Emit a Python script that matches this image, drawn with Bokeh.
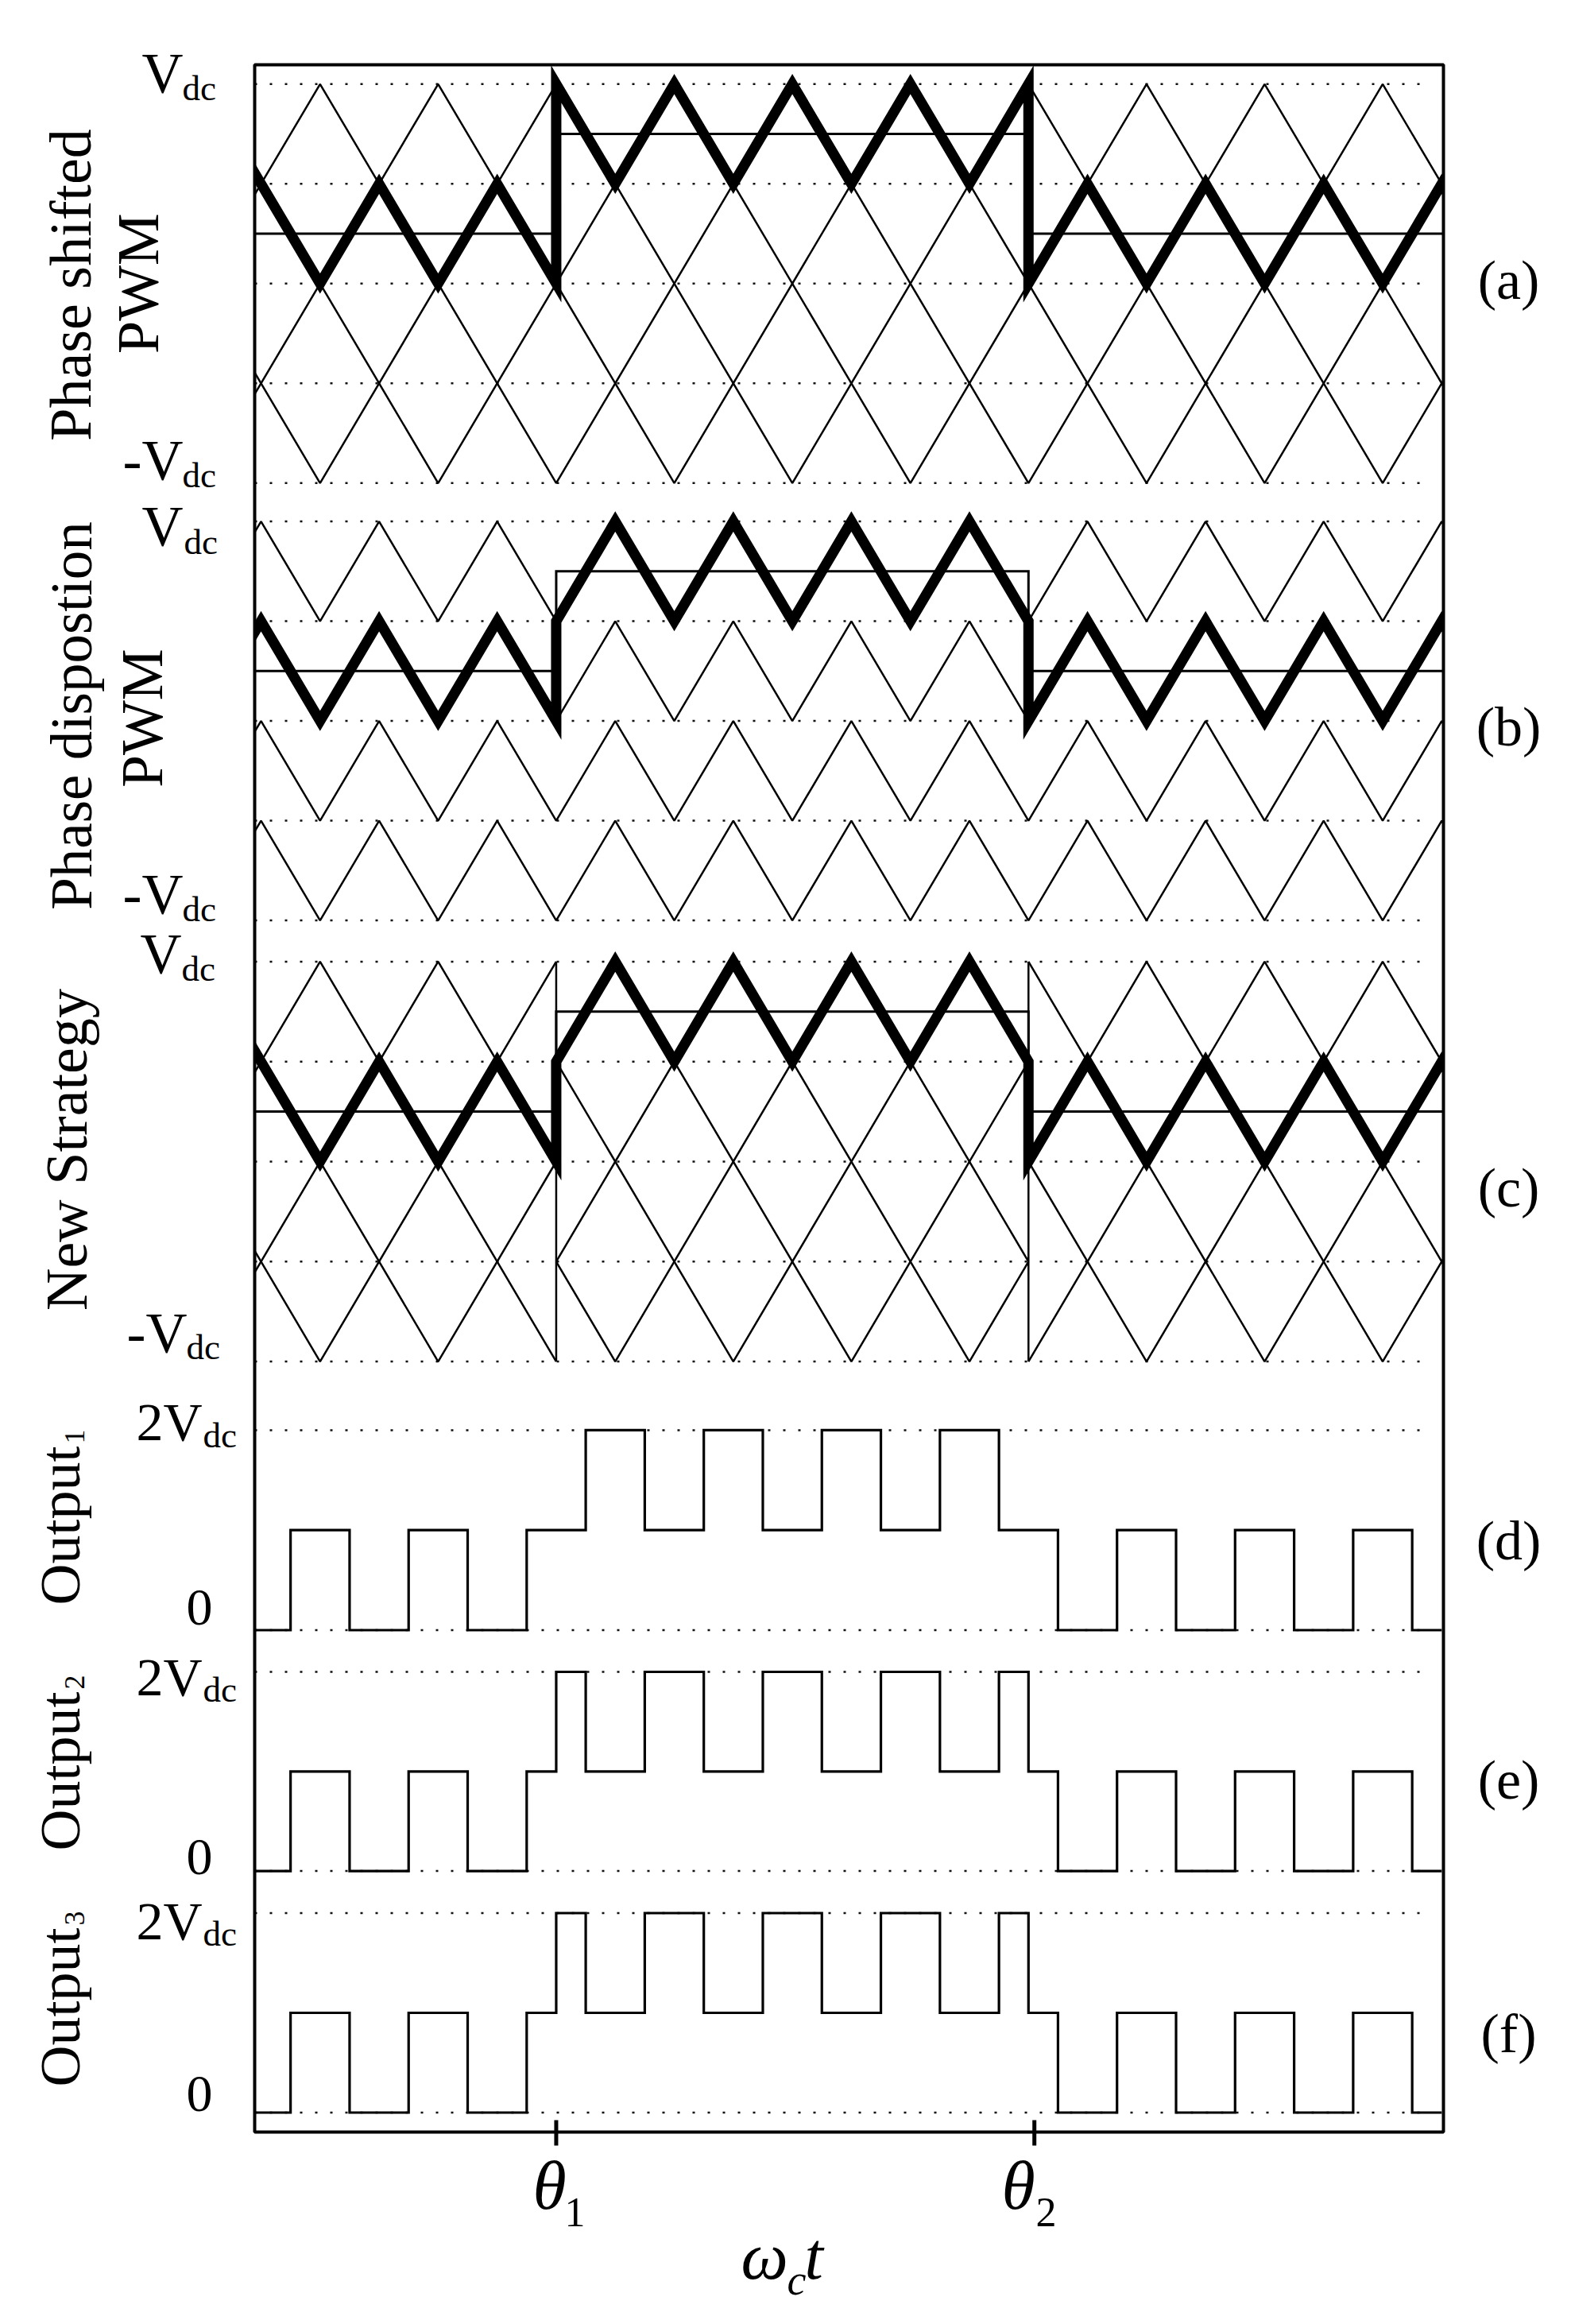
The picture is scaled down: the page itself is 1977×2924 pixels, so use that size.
import math
from bokeh.plotting import figure
from bokeh.models import Range1d, Label, BoxAnnotation
from bokeh.embed import file_html
from bokeh.resources import INLINE

# ---------------- data ----------------
# x: carrier time axis (quarter periods of the PS carriers, omega_c*t), y: multiples of Vdc
theta_ticks = [5.0, 13.1]
theta_subs = ["1", "2"]

carrier_levels = [1.0, 0.5, 0.0, -0.5, -1.0]
output_levels = [2.0, 0.0]

# modulating (reference) signal, identical in (a)-(c)
ref_x = [-1, 5, 5, 13, 13, 21]
ref_y = [0.25, 0.25, 0.75, 0.75, 0.25, 0.25]

# (a) phase shifted carriers (vertices)
ps_x = [[-3, 1, 5, 9, 13, 17, 21],
        [-1, 3, 7, 11, 15, 19, 23],
        [-3, 1, 5, 9, 13, 17, 21],
        [-1, 3, 7, 11, 15, 19, 23]]
ps_y = [[-1, 1, -1, 1, -1, 1, -1],
        [-1, 1, -1, 1, -1, 1, -1],
        [1, -1, 1, -1, 1, -1, 1],
        [1, -1, 1, -1, 1, -1, 1]]

# (b) phase disposition carriers (vertices)
pd_x = [-1, 0, 1, 2, 3, 4, 5, 6, 7, 8, 9, 10, 11, 12, 13, 14, 15, 16, 17, 18, 19, 20, 21]
pd_y = [
    [0.5, 1, 0.5, 1, 0.5, 1, 0.5, 1, 0.5, 1, 0.5, 1, 0.5, 1, 0.5, 1, 0.5, 1, 0.5, 1, 0.5, 1, 0.5],
    [0, 0.5, 0, 0.5, 0, 0.5, 0, 0.5, 0, 0.5, 0, 0.5, 0, 0.5, 0, 0.5, 0, 0.5, 0, 0.5, 0, 0.5, 0],
    [-0.5, 0, -0.5, 0, -0.5, 0, -0.5, 0, -0.5, 0, -0.5, 0, -0.5, 0, -0.5, 0, -0.5, 0, -0.5, 0, -0.5, 0, -0.5],
    [-1, -0.5, -1, -0.5, -1, -0.5, -1, -0.5, -1, -0.5, -1, -0.5, -1, -0.5, -1, -0.5, -1, -0.5, -1, -0.5, -1, -0.5, -1],
]

# (c) new strategy carriers (pieces, with resets at theta1 / theta2)
ns_x = [[-3, 1, 5], [-1, 3, 5], [-3, 1, 5], [-1, 3, 5],
        [5, 6, 10, 13], [5, 8, 12, 13], [5, 6, 10, 13], [5, 8, 12, 13],
        [13, 17, 21], [13, 15, 19, 23], [13, 17, 21], [13, 15, 19, 23],
        [5, 5], [13, 13]]
ns_y = [[-1, 1, -1], [-1, 1, 0], [1, -1, 1], [1, -1, 0],
        [-0.5, -1, 1, -0.5], [0.5, -1, 1, 0.5], [0.5, 1, -1, 0.5], [-0.5, 1, -1, -0.5],
        [-1, 1, -1], [0, -1, 1, -1], [1, -1, 1], [0, 1, -1, 1],
        [-1, 1], [-1, 1]]

# bold (active) carrier traces
bold_x = [-1, 0, 1, 2, 3, 4, 5, 5, 6, 7, 8, 9, 10, 11, 12, 13, 13, 14, 15, 16, 17, 18, 19, 20, 21]
bold_a_y = [1, .5, 0, .5, 0, .5, 0, 1, .5, 1, .5, 1, .5, 1, .5, 1, 0, .5, 0, .5, 0, .5, 0, .5, 0]
bold_b_y = [0, .5, 0, .5, 0, .5, 0, .5, 1, .5, 1, .5, 1, .5, 1, .5, 0, .5, 0, .5, 0, .5, 0, .5, 0]
bold_c_y = [1, .5, 0, .5, 0, .5, 0, .5, 1, .5, 1, .5, 1, .5, 1, .5, 0, .5, 0, .5, 0, .5, 0, .5, 0]

# outputs: switching instants and level after each instant (in Vdc)
out_start, out_end = -1, 20
out1_t = [0.5, 1.5, 2.5, 3.5, 4.5, 5.5, 6.5, 7.5, 8.5, 9.5, 10.5, 11.5, 12.5, 13.5,
          14.5, 15.5, 16.5, 17.5, 18.5, 19.5]
out1_l = [1, 0, 1, 0, 1, 2, 1, 2, 1, 2, 1, 2, 1, 0, 1, 0, 1, 0, 1, 0]
out2_t = [0.5, 1.5, 2.5, 3.5, 4.5, 5, 5.5, 6.5, 7.5, 8.5, 9.5, 10.5, 11.5, 12.5, 13, 13.5,
          14.5, 15.5, 16.5, 17.5, 18.5, 19.5]
out2_l = [1, 0, 1, 0, 1, 2, 1, 2, 1, 2, 1, 2, 1, 2, 1, 0, 1, 0, 1, 0, 1, 0]
out3_t = [0.5, 1.5, 2.5, 3.5, 4.5, 5, 5.5, 6.5, 7.5, 8.5, 9.5, 10.5, 11.5, 12.5, 13, 13.5,
          14.5, 15.5, 16.5, 17.5, 18.5, 19.5]
out3_l = [1, 0, 1, 0, 1, 2, 1, 2, 1, 2, 1, 2, 1, 2, 1, 0, 1, 0, 1, 0, 1, 0]

# ---------------- layout (page pixels) ----------------
FONT = "Liberation Serif"
W, H = 1970, 2920
FRAME_L, FRAME_R, FRAME_T, FRAME_B = 320, 1816, 81, 2682
X_ORIGIN_PX, X_UNIT_PX = 328.0, 74.29
GRID_END_PX = 1797
PANEL_GEOM = {"a": (356.3, 251.0), "b": (906.6, 251.0), "c": (1461.0, 251.6),
              "d": (2050.5, 125.8), "e": (2353.6, 125.3), "f": (2657.5, 125.5)}
MID = 0.34  # distance (in em) from the alphabetic baseline to the text-box middle


def dx(px):
    return (px - X_ORIGIN_PX) / X_UNIT_PX


def dy(py, k):
    z, s = PANEL_GEOM[k]
    return (z - py) / s


def yrange(k):
    return Range1d(dy(H, k), dy(0, k))


def rn(k):
    return "default" if k == "a" else k


p = figure(width=W, height=H, output_backend="svg", toolbar_location=None,
           x_range=Range1d(dx(0), dx(W)), y_range=yrange("a"),
           min_border=0, x_axis_location=None, y_axis_location=None)
p.extra_y_ranges = {k: yrange(k) for k in "bcdef"}
p.grid.visible = False
p.background_fill_color = "white"
p.border_fill_color = "white"
p.outline_line_color = None

gx0, gx1 = dx(FRAME_L), dx(GRID_END_PX)
DOT = dict(line_dash="3 16", line_width=2.5, color="#111111")
THIN = dict(line_width=2.5, color="black")
for k in "abc":
    n = len(carrier_levels)
    p.segment(x0=[gx0] * n, x1=[gx1] * n, y0=carrier_levels, y1=carrier_levels,
              y_range_name=rn(k), **DOT)
for k in "def":
    n = len(output_levels)
    p.segment(x0=[gx0] * n, x1=[gx1] * n, y0=output_levels, y1=output_levels,
              y_range_name=rn(k), **DOT)

p.multi_line(ps_x, ps_y, y_range_name="default", **THIN)
p.multi_line([pd_x] * len(pd_y), pd_y, y_range_name="b", **THIN)
p.multi_line(ns_x, ns_y, y_range_name="c", **THIN)

for k in "abc":
    p.line(ref_x, ref_y, y_range_name=rn(k), line_width=3, color="black", line_join="miter")

for k, yy in (("a", bold_a_y), ("b", bold_b_y), ("c", bold_c_y)):
    p.line(bold_x, yy, y_range_name=rn(k), line_width=13, color="black", line_join="miter")

for k, tt, ll in (("d", out1_t, out1_l), ("e", out2_t, out2_l), ("f", out3_t, out3_l)):
    xs = [out_start] + tt + [out_end]
    ys = [0] + ll + [ll[-1]]
    p.step(xs, ys, mode="after", y_range_name=k, line_width=3.2, color="black",
           line_join="miter")

# theta ticks across the bottom edge of the box
p.segment(x0=theta_ticks, x1=theta_ticks,
          y0=[dy(FRAME_B - 15, "f")] * len(theta_ticks), y1=[dy(FRAME_B + 17, "f")] * len(theta_ticks),
          y_range_name="f", line_width=5, color="black")

# white masks outside the plotting box, then the box itself
p.add_layout(BoxAnnotation(right=dx(FRAME_L), fill_color="white", fill_alpha=1.0,
                           line_color=None, level="annotation"))
p.add_layout(BoxAnnotation(left=dx(FRAME_R), fill_color="white", fill_alpha=1.0,
                           line_color=None, level="annotation"))
p.add_layout(BoxAnnotation(left=dx(FRAME_L), right=dx(FRAME_R),
                           top=dy(FRAME_T, "a"), bottom=dy(FRAME_B, "a"),
                           fill_color=None, fill_alpha=0.0, line_color="black", line_alpha=1.0,
                           line_width=4, level="annotation"))


# ---------------- texts ----------------
def lab(text, px, py, k, size, align="left", angle=0.0, style="normal", centered=False):
    """px/py = alphabetic baseline position (page px) unless centered=True."""
    if not centered:
        if angle == 0.0:
            py = py - MID * size
        else:
            px = px - MID * size
    p.add_layout(Label(x=dx(px), y=dy(py, k), y_range_name=rn(k), text=text,
                       text_font=FONT, text_font_size=f"{size}px", text_align=align,
                       text_baseline="middle", angle=angle, text_font_style=style,
                       text_color="black"))


R = math.pi / 2
lab("Phase shifted", 114, 358, "a", 74, "center", angle=R)
lab("PWM", 199, 356, "a", 74, "center", angle=R)
lab("Phase dispostion", 115, 900, "b", 73, "center", angle=R)
lab("PWM", 204, 903, "b", 73, "center", angle=R)
lab("New Strategy", 109, 1446, "c", 74, "center", angle=R)
for k, start, digit in (("d", 2019, "1"), ("e", 2328, "2"), ("f", 2625, "3")):
    lab("Output", 100, start, k, 72, "left", angle=R)
    lab(digit, 106, start - 203, k, 36, "left", angle=R)

tick_texts = [
    ("a", "V", 230, 115.5, 229, 125.7),
    ("a", "-V", 230, 603.3, 229, 613),
    ("b", "V", 230, 686, 231, 697),
    ("b", "-V", 230, 1149, 229, 1159),
    ("c", "V", 228, 1224, 228, 1234),
    ("c", "-V", 235, 1701, 234, 1710),
    ("d", "2V", 254, 1811.6, 255, 1821),
    ("e", "2V", 254, 2133, 255, 2141),
    ("f", "2V", 254, 2440, 255, 2448),
]
for k, main, mx, my, sx, sy in tick_texts:
    lab(main, mx, my, k, 68 if main == "2V" else 72, "right")
    lab("dc", sx, sy, k, 45, "left")
for k, zy in (("d", 2044), ("e", 2358), ("f", 2656)):
    lab("0", 267, zy, k, 66, "right")

for txt, k, yy in (("(a)", "a", 352), ("(b)", "b", 914), ("(c)", "c", 1494),
                   ("(d)", "d", 1938), ("(e)", "e", 2239), ("(f)", "f", 2558)):
    lab(txt, 1898, yy, k, 70, "center", centered=True)

lab("θ", 670, 2779, "f", 86, style="italic")
lab(theta_subs[0], 710, 2801, "f", 52)
lab("θ", 1260, 2779, "f", 86, style="italic")
lab(theta_subs[1], 1303, 2801, "f", 52)
lab("ω", 932, 2867, "f", 84, style="italic")
lab("c", 990, 2887, "f", 54, style="italic")
lab("t", 1012, 2867, "f", 84, style="italic")

open("out.html", "w").write(file_html(p, INLINE))
